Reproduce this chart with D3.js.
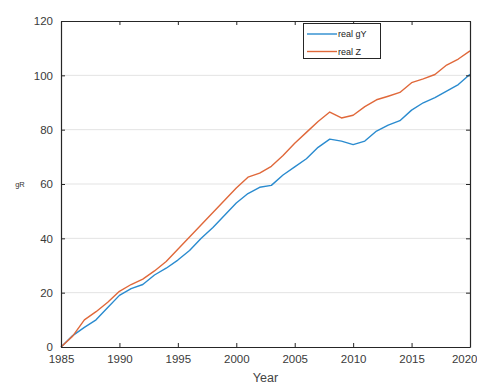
<!DOCTYPE html>
<html>
<head>
<meta charset="utf-8">
<script src="https://cdn.jsdelivr.net/npm/d3@7"></script>
<style>
  html, body { margin: 0; padding: 0; background: #fff; }
  svg { display: block; font-family: "Liberation Sans", Arial, sans-serif; }
</style>
</head>
<body>
<svg id="chart" width="477" height="385"></svg>
<script>
// Years on the horizontal axis
const years = d3.range(1985, 2021);

// Real gY index
const realGY = [0, 4.2, 7.2, 10, 14.5, 19, 21.5, 23, 26.5, 29, 32, 35.5, 40, 44, 48.5, 53,
  56.5, 58.8, 59.5, 63.3, 66.3, 69.3, 73.5, 76.5, 75.8, 74.5, 75.8, 79.5, 81.7, 83.3,
  87.2, 89.9, 91.8, 94.2, 96.6, 100.4];

// Real Z index
const realZ = [0, 4, 10, 13, 16.5, 20.5, 23, 25, 28, 31.5, 36, 40.5, 45, 49.5, 54,
  58.5, 62.5, 64, 66.5, 70.5, 75, 79, 83, 86.5, 84.3, 85.3, 88.5, 91, 92.3, 93.7,
  97.3, 98.7, 100.3, 103.8, 106, 109];

const xTicks = [1985, 1990, 1995, 2000, 2005, 2010, 2015, 2020];
const yTicks = [0, 20, 40, 60, 80, 100, 120];

const seriesNames = ["real gY", "real Z"];
const seriesColors = ["#2a8bcf", "#e0683a"];

const svg = d3.select("#chart");
const plotL = 61, plotR = 470, plotT = 21, plotB = 347;

const x = d3.scaleLinear().domain([1985, 2020]).range([plotL, plotR]);
const y = d3.scaleLinear().domain([0, 120]).range([plotB, plotT]);

const axisColor = "#262626";
const tickLen = 4;

// horizontal grid lines
svg.append("g")
  .selectAll("line")
  .data(yTicks.filter(v => v > 0 && v < 120))
  .join("line")
  .attr("x1", plotL).attr("x2", plotR)
  .attr("y1", d => y(d)).attr("y2", d => y(d))
  .attr("stroke", "#e3e3e3").attr("stroke-width", 1);

// data lines
const line = d3.line().x((d, i) => x(years[i])).y(d => y(d));
[realGY, realZ].forEach((s, k) => {
  svg.append("path")
    .datum(s)
    .attr("d", line)
    .attr("fill", "none")
    .attr("stroke", seriesColors[k])
    .attr("stroke-width", 1.4)
    .attr("stroke-linejoin", "round");
});

// axes with inward ticks, boxed
const fmtY = d3.format("d");
const gB = svg.append("g").attr("transform", `translate(0,${plotB})`)
  .call(d3.axisBottom(x).tickValues(xTicks).tickFormat(d3.format("d")).tickSizeInner(-tickLen).tickSizeOuter(0).tickPadding(8));
const gT = svg.append("g").attr("transform", `translate(0,${plotT})`)
  .call(d3.axisTop(x).tickValues(xTicks).tickFormat("").tickSizeInner(-tickLen).tickSizeOuter(0));
const gL = svg.append("g").attr("transform", `translate(${plotL},0)`)
  .call(d3.axisLeft(y).tickValues(yTicks).tickFormat(fmtY).tickSizeInner(-tickLen).tickSizeOuter(0).tickPadding(8));
const gR = svg.append("g").attr("transform", `translate(${plotR},0)`)
  .call(d3.axisRight(y).tickValues(yTicks).tickFormat("").tickSizeInner(-tickLen).tickSizeOuter(0));

[gB, gT, gL, gR].forEach(g => {
  g.select(".domain").attr("stroke", axisColor).attr("stroke-width", 1.2);
  g.selectAll(".tick line").attr("stroke", axisColor).attr("stroke-width", 1);
  g.selectAll(".tick text").attr("fill", "#3a3a3a").style("font-size", "11.5px")
    .style("font-family", "'Liberation Sans', Arial, sans-serif");
});

// keep the last year label inside the canvas
gB.selectAll(".tick text").filter(d => d === 2020)
  .attr("text-anchor", "end").attr("x", 477 - plotR);

// axis titles
svg.append("text")
  .attr("x", (plotL + plotR) / 2).attr("y", 382)
  .attr("text-anchor", "middle")
  .attr("fill", "#444").style("font-size", "12.5px")
  .text("Year");

svg.append("text")
  .attr("x", 20).attr("y", 187)
  .attr("text-anchor", "middle")
  .attr("fill", "#333").style("font-size", "7.5px")
  .text("gR");

// legend
const lg = svg.append("g");
lg.append("rect")
  .attr("x", 303.5).attr("y", 23.5).attr("width", 77).attr("height", 35)
  .attr("fill", "#fff").attr("stroke", axisColor).attr("stroke-width", 1);
seriesNames.forEach((name, k) => {
  const ly = 34 + k * 17.5;
  lg.append("line")
    .attr("x1", 307).attr("x2", 337).attr("y1", ly).attr("y2", ly)
    .attr("stroke", seriesColors[k]).attr("stroke-width", 1.4);
  lg.append("text")
    .attr("x", 338).attr("y", ly + 3)
    .attr("fill", "#222").style("font-size", "9px")
    .text(name);
});
</script>
</body>
</html>
